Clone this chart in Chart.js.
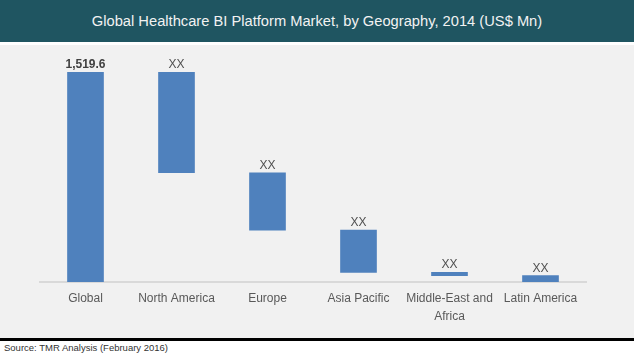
<!DOCTYPE html>
<html>
<head>
<meta charset="utf-8">
<script src="https://cdn.jsdelivr.net/npm/chart.js@4"></script>
<style>
  html, body { margin: 0; padding: 0; background: #ffffff; }
  body { width: 634px; height: 355px; position: relative; overflow: hidden; font-family: "Liberation Sans", Arial, sans-serif; }
  #title { position: absolute; left: 0; top: 0; width: 634px; height: 42px; background: #1f5561; color: #f2f2f2; font-size: 14.7px; line-height: 42px; text-align: center; }
  #plot { position: absolute; left: 0; top: 45px; width: 634px; height: 293px; background: #f1f1f1; }
  #rule { position: absolute; left: 0; top: 338px; width: 634px; height: 3px; background: #000; }
  #source { position: absolute; left: 4px; top: 341px; font-size: 9.5px; line-height: 13px; color: #333; }
</style>
</head>
<body>
<div id="title">Global Healthcare BI Platform Market, by Geography, 2014 (US$ Mn)</div>
<div id="plot"><canvas id="c" width="634" height="293"></canvas></div>
<div id="rule"></div>
<div id="source">Source: TMR Analysis (February 2016)</div>
<script>
const categories = ["Global", "North America", "Europe", "Asia Pacific", ["Middle-East and", "Africa"], "Latin America"];
const globalTotal = 1519.6;
const regionValues = [729, 415, 306, 24, 45.6];
const valueLabels = ["1,519.6", "XX", "XX", "XX", "XX", "XX"];

// waterfall ranges: Global from 0, then each region stacked downwards
const ranges = [[0, globalTotal]];
let runningTop = globalTotal;
for (const v of regionValues) {
  ranges.push([runningTop - v, runningTop]);
  runningTop -= v;
}

const labelPlugin = {
  id: 'valueLabels',
  afterDatasetsDraw(chart) {
    const ctx = chart.ctx;
    const meta = chart.getDatasetMeta(0);
    ctx.save();
    ctx.textAlign = 'center';
    ctx.textBaseline = 'alphabetic';
    meta.data.forEach((bar, i) => {
      if (i === 0) {
        ctx.font = 'bold 12px "Liberation Sans", Arial, sans-serif';
        ctx.fillStyle = '#404040';
      } else {
        ctx.font = '12px "Liberation Sans", Arial, sans-serif';
        ctx.fillStyle = '#505050';
      }
      const topY = Math.min(bar.y, bar.base);
      ctx.fillText(valueLabels[i], bar.x, topY - 4);
    });
    ctx.restore();
  }
};

new Chart(document.getElementById('c'), {
  type: 'bar',
  data: {
    labels: categories,
    datasets: [{
      data: ranges,
      backgroundColor: '#4f81bd',
      borderWidth: 0,
      barThickness: 36
    }]
  },
  options: {
    responsive: false,
    animation: false,
    layout: { padding: { left: 40, right: 48, top: 27, bottom: 0 } },
    plugins: { legend: { display: false }, tooltip: { enabled: false } },
    scales: {
      x: {
        grid: { display: false, drawTicks: false },
        border: { display: true, color: '#d9d9d9', width: 2 },
        ticks: {
          color: '#595959',
          font: { family: '"Liberation Sans", Arial, sans-serif', size: 12, lineHeight: 1.5 },
          padding: 8,
          maxRotation: 0,
          autoSkip: false
        },
        afterFit(scale) { scale.height = 56; }
      },
      y: {
        display: false,
        min: 0,
        max: globalTotal
      }
    }
  },
  plugins: [labelPlugin]
});
</script>
</body>
</html>
